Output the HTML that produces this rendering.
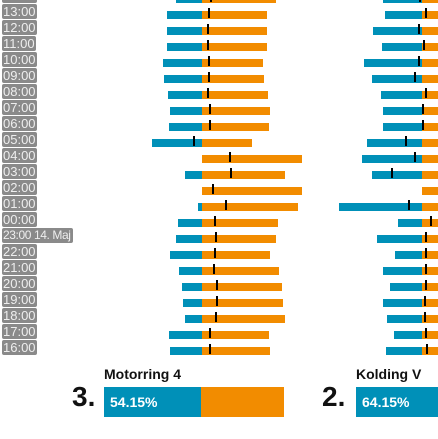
<!DOCTYPE html>
<html><head><meta charset="utf-8"><style>
html,body{margin:0;padding:0;background:#fff;}
#root{position:relative;width:438px;height:439px;overflow:hidden;font-family:"Liberation Sans",sans-serif;}
.lbl{position:absolute;left:2px;height:15px;line-height:15px;background:#8a8a8a;color:#eee;font-size:13px;padding:0 1px;border-radius:2px;box-sizing:border-box;min-width:33px;white-space:nowrap;overflow:hidden;}
.bar{position:absolute;height:8px;}
.mk{position:absolute;width:2px;height:10px;background:#000;}
.title{position:absolute;font-weight:bold;font-size:14px;color:#111;}
.rank{position:absolute;font-weight:bold;font-size:28px;color:#111;}
.sbar{position:absolute;height:30px;}
.pct{position:absolute;color:#fff;font-weight:bold;font-size:14px;line-height:30px;}
</style></head><body>
<div id="root"></div>
<script>
const hours = ["14:00","13:00","12:00","11:00","10:00","09:00","08:00","07:00","06:00","05:00","04:00","03:00","02:00","01:00","00:00","23:00 14. Maj","22:00","21:00","20:00","19:00","18:00","17:00","16:00"];
// blue share (px of 100) and marker offset from center, per location
const m4Blue = [26,35,35,35,39,38,34,32,33,50,0,17,0,4,24,26,32,23,20,19,17,33,32];
const m4Mark = [9,7,6,6,7,7,6,8,8,-8,28,29,11,24,13,14,13,12,15,15,14,8,8];
const kvBlue = [39,37,49,40,58,50,41,39,39,55,60,50,0,83,24,45,27,39,32,39,35,28,36];
const kvMark = [-2,4,-3,2,-3,-7,4,1,1,-16,-7,-30,null,-13,9,4,4,4,4,3,3,4,5];
const summaryNames = ["Motorring 4","Kolding V"];
const summaryRanks = ["3.","2."];
const summaryPct = [54.15,64.15];

const root = document.getElementById('root');
const BLUE = '#0090b8', ORANGE = '#f28c00';
function rowTop(i){ return -5 + 16*i; }
function mk(cls, name, style){
  const d = document.createElement('div');
  d.className = cls;
  
  
  Object.assign(d.style, style);
  root.appendChild(d);
  return d;
}
hours.forEach((h,i)=>{
  const t = rowTop(i);
  const st = {top:(t-7)+'px'};
  if(h.length>5){ st.fontSize='12px'; st.letterSpacing='-0.4px'; st.width='71px'; }
  const l = mk('lbl','hour-label',st);
  l.textContent = h;
});
function drawSeries(cx, blue, mark, prefix){
  blue.forEach((b,i)=>{
    const t = rowTop(i);
    if(b>0) mk('bar', prefix+'-blue-bar', {left:(cx-b)+'px', width:b+'px', top:t+'px', background:BLUE});
    mk('bar', prefix+'-orange-bar', {left:cx+'px', width:(100-b)+'px', top:t+'px', background:ORANGE});
    if(mark[i]!==null) mk('mk', prefix+'-marker', {left:(cx+mark[i]-1)+'px', top:(t-3)+'px'});
  });
}
drawSeries(202, m4Blue, m4Mark, 'motorring4');
drawSeries(422, kvBlue, kvMark, 'kolding-v');
const sx = [104,356], rx = [72,322];
summaryNames.forEach((n,i)=>{
  const t = mk('title', 'location-title', {left:sx[i]+'px', top:'366px'}); t.textContent = n;
  const r = mk('rank', 'rank-number', {left:rx[i]+'px', top:'381px'}); r.textContent = summaryRanks[i];
  const w = 180*summaryPct[i]/100;
  mk('sbar','summary-blue-bar',{left:sx[i]+'px', top:'387px', width:w+'px', background:BLUE});
  mk('sbar','summary-orange-bar',{left:(sx[i]+w)+'px', top:'387px', width:(180-w)+'px', background:ORANGE});
  const p = mk('pct','summary-percent',{left:(sx[i]+6)+'px', top:'387px'}); p.textContent = summaryPct[i].toFixed(2)+'%';
});
</script>
</body></html>
